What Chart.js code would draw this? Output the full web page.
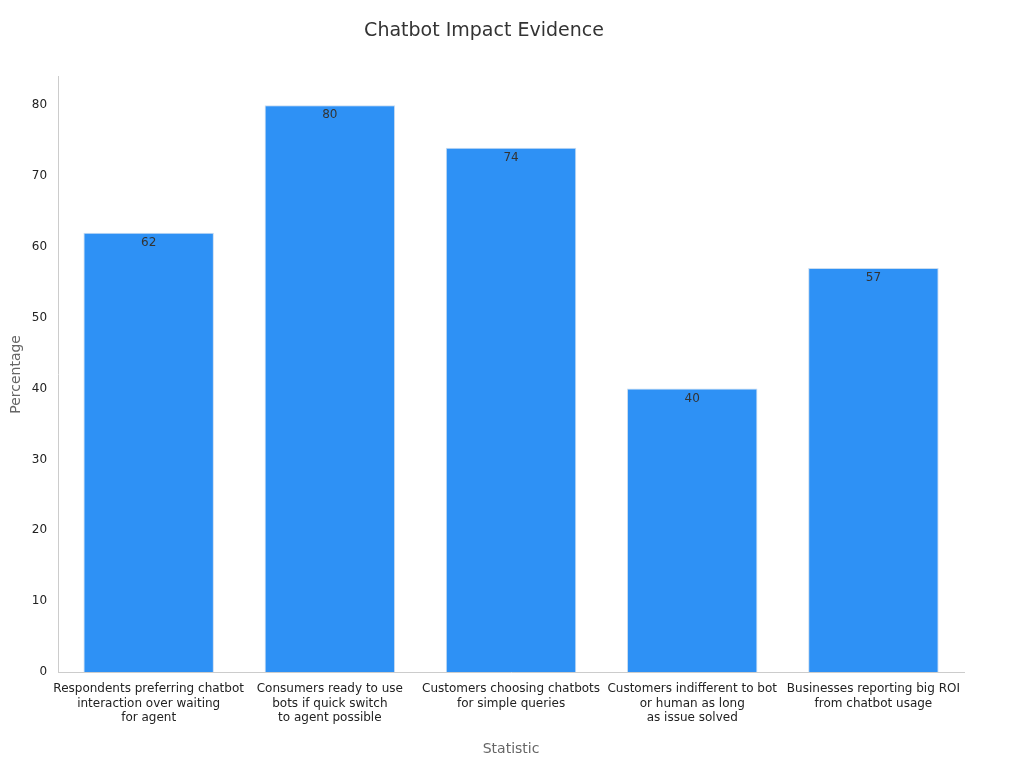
<!DOCTYPE html>
<html>
<head>
<meta charset="utf-8">
<script src="https://cdn.jsdelivr.net/npm/chart.js@4/dist/chart.umd.min.js"></script>
<style>
  html, body { margin: 0; padding: 0; background: #fff; }
  #wrap { width: 1024px; height: 768px; }
</style>
</head>
<body>
<div id="wrap"><canvas id="chart"></canvas></div>
<script>
// Daten
const categories = [
    ['Respondents preferring chatbot', 'interaction over waiting', 'for agent'],
    ['Consumers ready to use', 'bots if quick switch', 'to agent possible'],
    ['Customers choosing chatbots', 'for simple queries'],
    ['Customers indifferent to bot', 'or human as long', 'as issue solved'],
    ['Businesses reporting big ROI', 'from chatbot usage']
];
const values = [62, 80, 74, 40, 57];
const yTicks = [0, 10, 20, 30, 40, 50, 60, 70, 80];

Chart.defaults.font.family = '"DejaVu Sans", sans-serif';

// Werte oben in den Balken zeichnen
const valueLabels = {
    id: 'valueLabels',
    afterDatasetsDraw(chart) {
        const ctx = chart.ctx;
        const meta = chart.getDatasetMeta(0);
        ctx.save();
        ctx.font = '12px "DejaVu Sans", sans-serif';
        ctx.fillStyle = '#333';
        ctx.textAlign = 'center';
        ctx.textBaseline = 'top';
        meta.data.forEach((bar, i) => {
            ctx.fillText(String(values[i]), bar.x, bar.y + 4);
        });
        ctx.restore();
    }
};

new Chart(document.getElementById('chart'), {
    type: 'bar',
    data: {
        labels: categories,
        datasets: [{
            data: values,
            backgroundColor: '#2E91F5',
            borderColor: '#c8dcf0',
            borderWidth: 1
        }]
    },
    plugins: [valueLabels],
    options: {
        responsive: true,
        maintainAspectRatio: false,
        animation: false,
        layout: { padding: { left: 4, right: 60, top: 10, bottom: 6 } },
        plugins: {
            legend: { display: false },
            tooltip: { enabled: false },
            title: {
                display: true,
                text: 'Chatbot Impact Evidence',
                color: '#333',
                font: { size: 19, weight: 'normal' },
                padding: { top: 10, bottom: 34 }
            }
        },
        scales: {
            x: {
                grid: { display: false, drawTicks: true },
                border: { color: '#ccc' },
                categoryPercentage: 1,
                barPercentage: 0.8,
                ticks: { color: '#222', font: { size: 12 }, maxRotation: 0, autoSkip: false, padding: 2 },
                title: { display: true, text: 'Statistic', color: '#666', font: { size: 14 }, padding: { top: 14 } }
            },
            y: {
                min: 0,
                max: 84,
                grid: { display: false, drawTicks: true },
                border: { color: '#ccc' },
                afterBuildTicks(axis) {
                    axis.ticks = yTicks.map(v => ({ value: v }));
                },
                ticks: { color: '#222', font: { size: 12 } },
                title: { display: true, text: 'Percentage', color: '#666', font: { size: 14 } }
            }
        }
    }
});
</script>
</body>
</html>
